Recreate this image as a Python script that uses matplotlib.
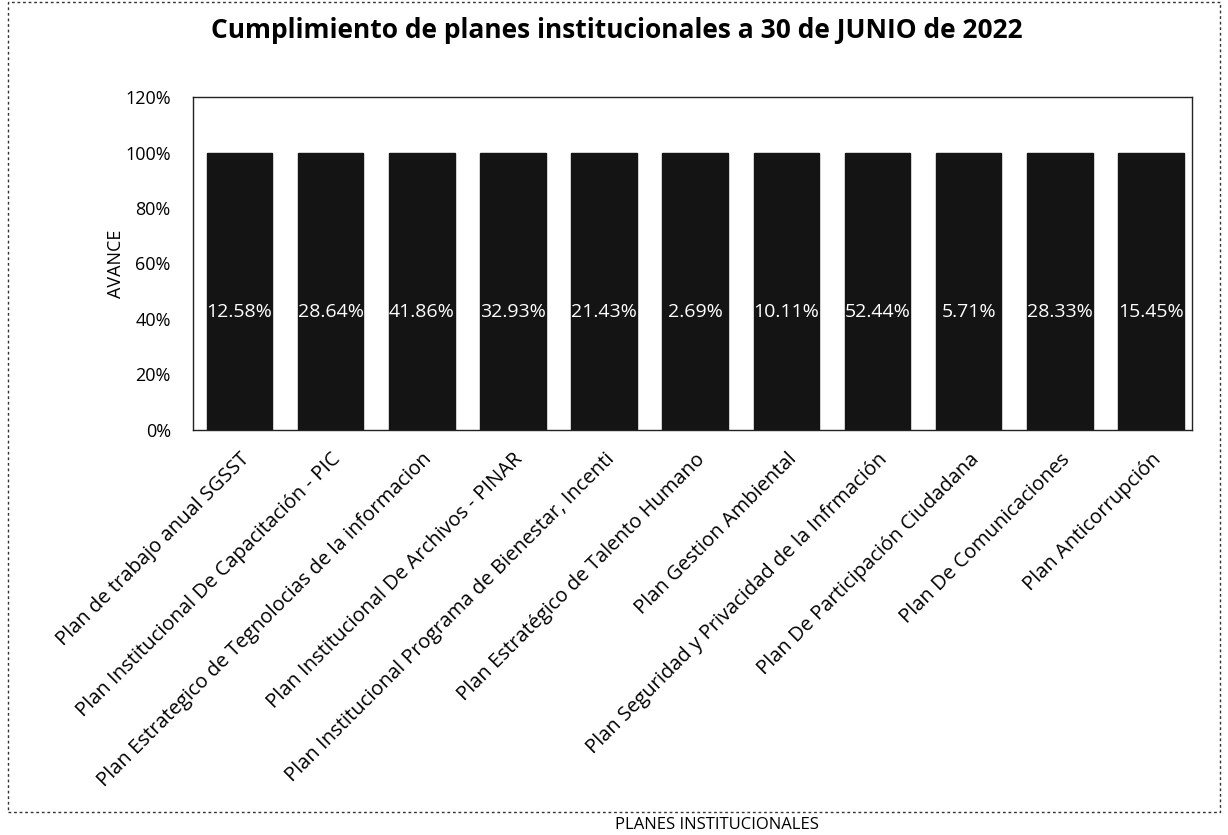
import matplotlib
matplotlib.use("Agg")
import matplotlib.pyplot as plt
from matplotlib.patches import Rectangle
from matplotlib.ticker import FuncFormatter

plt.rcParams['font.family'] = ['Open Sans', 'DejaVu Sans']

categories = [
    "Plan de trabajo anual SGSST",
    "Plan Institucional De Capacitación - PIC",
    "Plan Estrategico de Tegnolocias de la informacion",
    "Plan Institucional De Archivos - PINAR",
    "Plan Institucional Programa de Bienestar, Incenti",
    "Plan Estratégico de Talento Humano",
    "Plan Gestion Ambiental",
    "Plan Seguridad y Privacidad de la Infrmación",
    "Plan De Participación Ciudadana",
    "Plan De Comunicaciones",
    "Plan Anticorrupción",
]
meta = [100, 100, 100, 100, 100, 100, 100, 100, 100, 100, 100]
avance = [12.58, 28.64, 41.86, 32.93, 21.43, 2.69, 10.11, 52.44, 5.71, 28.33, 15.45]
yticks = [0, 20, 40, 60, 80, 100, 120]

W, H = 1228, 835
fig = plt.figure(figsize=(W / 100, H / 100), dpi=100)
ax = fig.add_axes([193 / W, 1 - 430 / H, (1192 - 193) / W, (430 - 97) / H])

x = list(range(len(categories)))
ax.bar(x, meta, width=0.72, color='#141414', edgecolor='#141414')
for xi, v in zip(x, avance):
    ax.text(xi, 42.5, f"{v:.2f}%", ha='center', va='center',
            color='white', fontsize=14)

ax.set_ylim(0, 120)
ax.set_xlim(-0.51, len(categories) - 0.55)
ax.set_yticks(yticks)
ax.yaxis.set_major_formatter(FuncFormatter(lambda v, p: f"{int(v)}%"))
ax.set_xticks(x)
ax.set_xticklabels(categories, rotation=45, ha='right', rotation_mode='anchor', fontsize=14.5)
ax.tick_params(axis='y', labelsize=13, length=0, pad=16)
ax.tick_params(axis='x', length=0, pad=14)
for s in ax.spines.values():
    s.set_color('#222222')
    s.set_linewidth(1.0)

ax.set_ylabel("AVANCE", fontsize=13, labelpad=0)
fig.text(617 / W, 1 - 30 / H, "Cumplimiento de planes institucionales a 30 de JUNIO de 2022",
         ha='center', va='center', fontsize=19, fontweight='bold')
fig.text(717 / W, 1 - 825 / H, "PLANES INSTITUCIONALES", ha='center', va='center', fontsize=12)

fig.patches.append(Rectangle((8 / W, 1 - 812 / H), (1220 - 8) / W, (812 - 2) / H,
                             transform=fig.transFigure, fill=False, linestyle=(0, (2, 2)),
                             edgecolor='#333333', linewidth=1.0))

fig.savefig("out.png", dpi=100)
